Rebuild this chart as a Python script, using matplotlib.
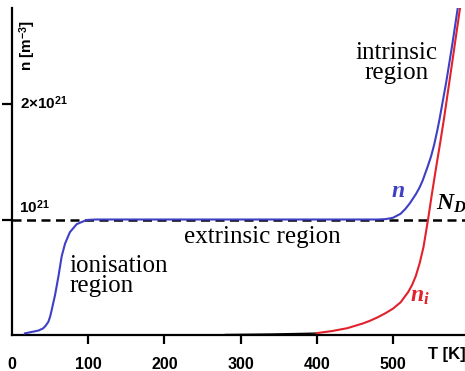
import matplotlib
matplotlib.use("Agg")
import matplotlib.pyplot as plt

# Electron concentration n(T) in units of 1e21 m^-3
T_n = [17, 28, 35, 41, 44, 47.7, 50, 52, 54, 56.4, 60.8, 65.2, 69.6, 76,
       85, 98, 110, 200, 300, 400, 480, 490, 500, 510, 516, 522, 530, 535,
       539, 546, 550, 554, 558, 561, 570, 578, 585]
n_vals = [0.01, 0.025, 0.035, 0.054, 0.075, 0.11, 0.155, 0.21, 0.27, 0.34,
          0.50, 0.68, 0.79, 0.89, 0.96, 0.996, 1.0, 1.0, 1.0, 1.0, 1.0,
          1.003, 1.015, 1.05, 1.09, 1.14, 1.22, 1.28, 1.34, 1.47, 1.55, 1.65,
          1.77, 1.87, 2.2, 2.53, 2.84]

# Intrinsic carrier concentration n_i(T), 1e21 m^-3
T_ni_low = [280, 340, 400]
ni_low = [0.0, 0.004, 0.012]
T_ni = [400, 420, 440, 450, 460, 470, 480, 490, 500, 510, 520, 525, 530,
        535, 540, 546, 551, 557, 562, 567, 578, 588]
ni_vals = [0.012, 0.03, 0.055, 0.075, 0.095, 0.12, 0.15, 0.185, 0.225,
           0.28, 0.37, 0.43, 0.51, 0.62, 0.76, 1.0, 1.22, 1.47, 1.67, 1.88,
           2.38, 2.84]

N_D = 1.0
x_ticks = [0, 100, 200, 300, 400, 500]
x_labels = ["0", "100", "200", "300", "400", "500"]
y_ticks = [1.0, 2.0]

BLUE = "#3f3fc6"
RED = "#e1222c"

plt.rcParams["mathtext.fontset"] = "custom"
plt.rcParams["mathtext.it"] = "Liberation Serif:italic:bold"
plt.rcParams["mathtext.rm"] = "Liberation Serif:bold"
plt.rcParams["mathtext.bf"] = "Liberation Sans:bold"

fig = plt.figure(figsize=(4.65, 3.71), dpi=100)
ax = fig.add_axes([12 / 465, 1 - 334.5 / 371, 1 - 12 / 465, (334.5 - 8) / 371])
ax.set_xlim(0, (465 - 12) / 0.762)
ax.set_ylim(0, (334.5 - 8) / 115)

# donor concentration level
ax.axhline(N_D, color="black", lw=1.8, dashes=(3.6, 2.2), zorder=1)

ax.plot(T_ni_low, ni_low, color="black", lw=1.0, zorder=2)
ax.plot(T_ni, ni_vals, color=RED, lw=1.5, zorder=3)
ax.plot(T_n, n_vals, color=BLUE, lw=1.5, zorder=4)

for side in ("top", "right"):
    ax.spines[side].set_visible(False)
for side in ("left", "bottom"):
    ax.spines[side].set_linewidth(1.6)
    ax.spines[side].set_color("black")

ax.set_xticks(x_ticks)
ax.set_xticklabels(x_labels, fontfamily="Liberation Sans", fontweight="bold",
                   fontsize=11.5)
ax.tick_params(axis="x", direction="out", length=6.5, width=1.6, pad=10)
ax.xaxis.get_major_ticks()[0].tick1line.set_visible(False)
ax.set_yticks(y_ticks)
ax.set_yticklabels([])
ax.tick_params(axis="y", direction="out", length=7, width=1.6)

sans = dict(family=["Liberation Sans", "DejaVu Sans"], fontweight="bold",
            color="black")
fig.text(20 / 465, 1 - 103 / 371, r"2×10$^{\mathbf{21}}$", fontsize=11,
         va="center", ha="left", **sans)
fig.text(19 / 465, 1 - 207 / 371, r"10$^{\mathbf{21}}$", fontsize=11,
         va="center", ha="left", **sans)
fig.text(28 / 465, 1 - 45 / 371, r"n [m$^{\mathbf{-3}}$]", fontsize=11,
         rotation=90, va="center", ha="center", **sans)
fig.text(428 / 465, 1 - 355 / 371, "T [K]", fontsize=12, va="center",
         ha="left", **sans)

serif = dict(fontfamily="Liberation Serif", fontsize=18, color="black")
ax.text(329, 0.85, "extrinsic region", ha="center", va="center", **serif)
ax.text(75, 0.51, "ionisation\nregion", ha="left", va="center",
        linespacing=0.85, **serif)
ax.text(504, 2.36, "intrinsic\nregion", ha="center", va="center",
        linespacing=0.85, **serif)

ax.text(507, 1.26, r"$n$", color=BLUE, fontsize=17, ha="center", va="center")
ax.text(556, 1.14, r"$N_D$", color="black", fontsize=17, ha="left",
        va="center", clip_on=False)
ax.text(522, 0.34, r"$n_i$", color=RED, fontsize=17, ha="left", va="center")

fig.savefig("out.png", dpi=100)
